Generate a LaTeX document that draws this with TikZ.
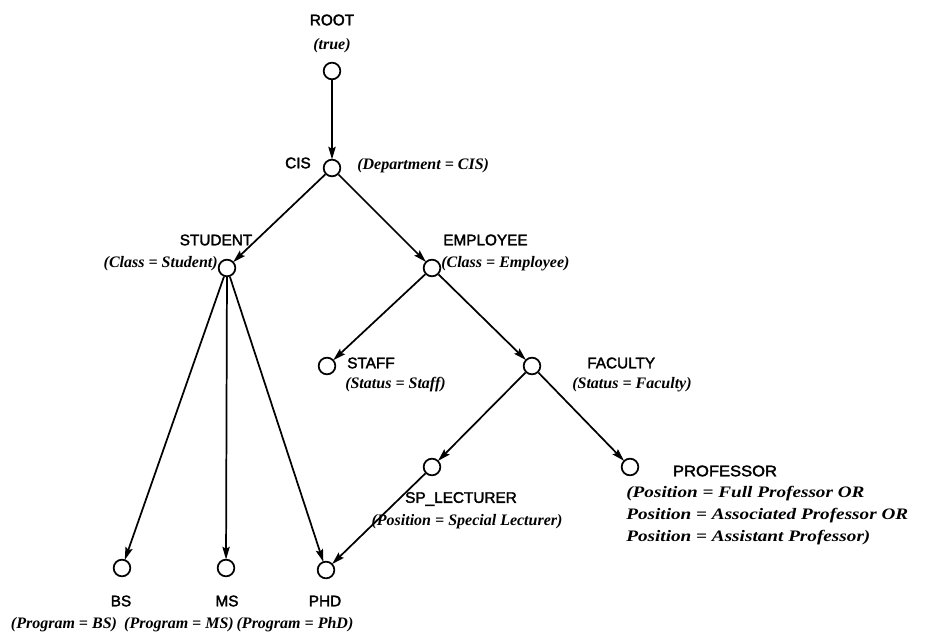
\documentclass[tikz,border=0pt]{standalone}
\usepackage{fontspec}
\setmainfont{Liberation Serif}
\newfontfamily\labfont[FakeBold=2.2]{Liberation Sans}
\usetikzlibrary{arrows.meta}
\begin{document}
\begin{tikzpicture}[x=0.75pt,y=-0.75pt,
  cls/.style={circle,draw,line width=1.3pt,inner sep=0pt,minimum size=12.5pt},
  clsname/.style={font=\labfont\fontsize{11.5}{13}\selectfont,inner sep=0pt},
  cond/.style={font=\bfseries\itshape\fontsize{12}{16.5}\selectfont,inner sep=0pt,align=left},
  isa/.style={line width=1.3pt,-{Stealth[length=9.5pt,width=5.5pt,inset=1.5pt]},shorten >=-0.5pt}]
\useasboundingbox (0,0) rectangle (927,641);
% class nodes
\node[cls] (root) at (332,71) {};
\node[cls] (cis) at (332,168) {};
\node[cls] (student) at (227,268) {};
\node[cls] (employee) at (432,268) {};
\node[cls] (staff) at (327,366) {};
\node[cls] (faculty) at (532,366) {};
\node[cls] (splect) at (432,467) {};
\node[cls] (prof) at (630,467) {};
\node[cls] (bs) at (122,568) {};
\node[cls] (ms) at (226,568) {};
\node[cls] (phd) at (326,570) {};
% names and defining conditions
\node[clsname] (rootN) at (332,20) {ROOT};
\node[cond] (rootC) at (332,46) {(true)};
\node[clsname,anchor=east] (cisN) at (311,163) {CIS};
\node[cond,anchor=west] (cisC) at (357,166) {(Department = CIS)};
\node[clsname] (studentN) at (216,240) {STUDENT};
\node[cond,anchor=east] (studentC) at (218,264) {(Class = Student)};
\node[clsname,anchor=west] (employeeN) at (443,240) {EMPLOYEE};
\node[cond,anchor=west] (employeeC) at (441,264) {(Class = Employee)};
\node[clsname,anchor=west] (staffN) at (347,363) {STAFF};
\node[cond,anchor=west] (staffC) at (345,385) {(Status = Staff)};
\node[clsname,anchor=west] (facultyN) at (587,363) {FACULTY};
\node[cond,anchor=west] (facultyC) at (572,385) {(Status = Faculty)};
\node[clsname] (splectN) at (461,499) {SP\_LECTURER};
\node[cond] (splectC) at (467,522) {(Position = Special Lecturer)};
\node[clsname,xscale=1.08,transform shape] (profN) at (725,471) {PROFESSOR};
\node[cond,anchor=north west,xscale=1.2,transform shape] (profC) at (626,486) {(Position = Full Professor OR\\Position = Associated Professor OR\\Position = Assistant Professor)};
\node[clsname] (bsN) at (121,601) {BS};
\node[clsname] (msN) at (227,601) {MS};
\node[clsname] (phdN) at (325,601) {PHD};
\node[cond] (bsC) at (64,625) {(Program = BS)};
\node[cond] (msC) at (179,625) {(Program = MS)};
\node[cond] (phdC) at (295,625) {(Program = PhD)};
% specialization edges
\draw[isa] (root) -- (cis);
\draw[isa] (cis) -- (student);
\draw[isa] (cis) -- (employee);
\draw[isa] (employee) -- (staff);
\draw[isa] (employee) -- (faculty);
\draw[isa] (faculty) -- (splect);
\draw[isa] (faculty) -- (prof);
\draw[isa] (student) -- (bs);
\draw[isa] (student) -- (ms);
\draw[isa] (student) -- (phd);
\draw[isa] (splect) -- (phd);
\end{tikzpicture}
\end{document}
